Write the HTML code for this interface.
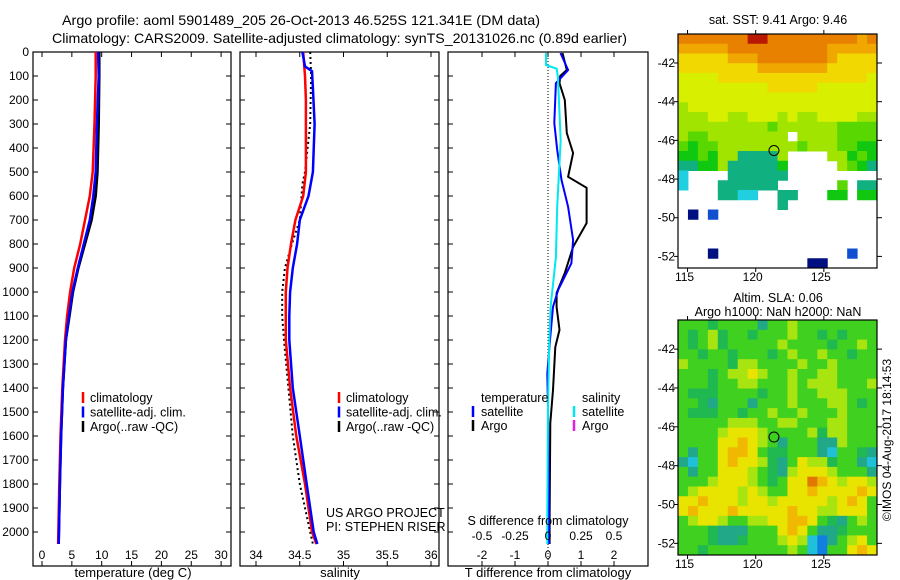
<!DOCTYPE html>
<html><head><meta charset="utf-8">
<style>
html,body{margin:0;padding:0;background:#fff;}
svg{display:block;font-family:"Liberation Sans",sans-serif;}
</style></head>
<body>
<svg id="chart" width="900" height="580" viewBox="0 0 900 580" xmlns="http://www.w3.org/2000/svg">
<text x="62" y="25" font-size="14" textLength="478" lengthAdjust="spacingAndGlyphs">Argo profile: aoml 5901489_205 26-Oct-2013 46.525S 121.341E (DM data)</text>
<text x="52" y="43" font-size="14" textLength="575" lengthAdjust="spacingAndGlyphs">Climatology: CARS2009. Satellite-adjusted climatology: synTS_20131026.nc (0.89d earlier)</text>
<text x="778" y="24" font-size="12.5" text-anchor="middle">sat. SST: 9.41 Argo: 9.46</text>
<text x="778" y="302" font-size="12.5" text-anchor="middle">Altim. SLA: 0.06</text>
<text x="778" y="316" font-size="12.5" text-anchor="middle">Argo h1000: NaN h2000: NaN</text>
<text x="0" y="0" font-size="12" text-anchor="middle" transform="translate(891,440) rotate(-90)">©IMOS 04-Aug-2017 18:14:53</text>
<g id="plots"></g>
</svg>
<script>
// ---------- data ----------
const tDepth = [0,100,300,500,600,700,800,900,1000,1100,1200,1400,1600,1800,2050];
const tClim  = [9.0,9.0,8.8,8.5,8.0,7.2,6.4,5.4,4.7,4.2,3.85,3.4,3.1,2.9,2.7];
const tSat   = [9.4,9.5,9.2,9.0,8.6,8.0,7.0,6.0,5.1,4.5,4.0,3.5,3.2,3.0,2.8];
const tArgo  = [9.6,9.6,9.5,9.3,9.0,8.3,7.2,6.1,5.2,4.6,4.0,3.5,3.2,3.0,2.8];

const sDepthClim = [0,100,200,500,600,700,800,900,1000,1200,1400,1600,1800,2000,2050];
const sClim      = [34.54,34.56,34.57,34.57,34.54,34.45,34.40,34.36,34.34,34.34,34.39,34.46,34.56,34.64,34.69];
const sDepthSat  = [0,60,80,150,300,500,600,700,800,900,1000,1100,1200,1400,1600,1800,2000,2050];
const sSat       = [34.53,34.56,34.64,34.65,34.67,34.65,34.60,34.50,34.47,34.42,34.39,34.38,34.38,34.42,34.50,34.58,34.66,34.70];
const sDepthArgo = [0,100,300,500,550,700,800,900,1000,1100,1200,1400,1600,1800,1900,2000,2050];
const sArgo      = [34.62,34.63,34.62,34.56,34.53,34.50,34.41,34.33,34.30,34.30,34.32,34.37,34.42,34.50,34.56,34.62,34.65];

const dDepthTSat = [4,75,130,296,408,533,645,783,880,991,1062,1200,1340,1479,1937,2050];
const dTSat      = [0.38,0.61,0.24,0.19,0.28,0.41,0.61,0.76,0.71,0.31,0.15,0.06,-0.02,0.0,0.03,0.03];
const dDepthTArgo = [4,75,100,130,200,338,421,520,566,713,812,921,1004,1062,1158,1229,1408,1546,1937,2050];
const dTArgo      = [0.44,0.57,0.37,0.35,0.51,0.57,0.76,0.61,1.17,1.17,0.76,0.51,0.26,0.26,0.35,0.22,0.15,0.07,0.05,0.05];
const dDepthSSat = [4,54,70,104,367,645,854,1062,1200,1479,1937,2050];
const dSSat      = [-0.015,-0.015,0.066,0.075,0.096,0.07,0.06,0.02,0.01,0.0,-0.005,-0.005];

const depthTicks = [0,100,200,300,400,500,600,700,800,900,1000,1100,1200,1300,1400,1500,1600,1700,1800,1900,2000];
const tempTicks = [0,5,10,15,20,25,30];
const salTicks = ['34','34.5','35','35.5','36'];
const dTTicks = [-2,-1,0,1,2];
const dSTicks = ['-0.5','-0.25','0','0.25','0.5'];
const mapLatTicks = [-42,-44,-46,-48,-50,-52];
const mapLonTicks = [115,120,125];

// SST map rows (color codes), 20 cols x 24 rows
const sstRows = [
"OOOOOOORROOOOOOOOOoO",
"oooooOOOOOOOOOOooooo",
"YYYYYoooOOOOOOOoYYYY",
"YYYYYYYYoooooooYYYYY",
"yyyyYYYYYYYYYYYYYYYy",
"yyyyyyyyyYYYYYyyyyyy",
"yyyyyyyyyyyyyyyyyyyy",
"Lyyyyyyyyyyyyyyyyyyy",
"LLLyyLLyyyLyLLyyyyLL",
"LLLLLLLLLGLLLLLLGGGG",
"LGGLLLLLLLL.LLLLGGGG",
"GgGGLLLLLLLLGLLLGGgg",
"ggGgLLTTTTL....LLgGg",
"TTggLTTTTTg.....LGgT",
"C....TTTTTT.........",
"C...TTTTTT......G.TT",
"....TTCC..TT...gg.gg",
"..........T.........",
".N.B................",
"....................",
"....................",
"....................",
"...N.............B..",
".............NN....."
];
// SLA map rows
const slaRows = [
"GGGgGGGGTGGLGGGGGGGG",
"GgGLgGGgGGGLGGgGgGGG",
"GgGLgGGGGGLGGGGgGGLG",
"GGgGGgGGGgGLGGLGGgGG",
"LGGGGgLLGGGGLGGLGGGG",
"GGGgGLLYLGGLGGLLGGGG",
"GGGgGGLLGGGLGLLLGGGL",
"GgggGGGGgGGLGGLLLGGG",
"GGgTGGGTGGGLGGGLLGgG",
"GgggGGgGGLGGLGGGLGGG",
"GGGGGLLLGGLLGGGLLGGG",
"GGGGLYYYLGGGGLgLLGGG",
"GGGGYYoYLGTGGGTTLGGG",
"GTGGYooYGggGGGTCGGgT",
"TCGGYoYYLgTGYLLgGGTC",
"GTGGYYYLGgTLYYYLGGGT",
"GGGLYYYLGgGYYOoYLYYL",
"GLYYYYLYLGGYYoYYYYoY",
"YYoYYYLYYLYYYYYLYoYG",
"YoYYYoYYYYYoYYLLYYYG",
"GLYYLGGLLYYooYGgTGLG",
"GGGgTTTGGGYoYGTTgGGG",
"GGGgTTgGGGLYLCBTGLYG",
"GGgGGGGGGGGLGCBGGYoY"
];
const sstColors = {R:'#b81800',O:'#e88000',o:'#f0a800',Y:'#f0d800',y:'#d8f000',L:'#a0e400',G:'#58d800',g:'#10c810',T:'#10b080',C:'#20d0e0',B:'#1050d0',N:'#001080'};
const slaColors = {G:'#40d020',g:'#20b850',T:'#20a888',C:'#20c0d8',B:'#1080e0',L:'#a8e410',Y:'#e8e400',o:'#f0b800',O:'#e07800'};

// ---------- drawing ----------
const NS='http://www.w3.org/2000/svg';
const root=document.getElementById('plots');
function mk(tag,attrs,parent){const e=document.createElementNS(NS,tag);for(const k in attrs)e.setAttribute(k,attrs[k]);(parent||root).appendChild(e);return e;}
function txt(s,x,y,anchor,size,parent){const e=mk('text',{x:x,y:y,'text-anchor':anchor||'middle','font-size':size||12},parent);e.textContent=s;return e;}

const TOP=52, BOT=566;
const yD = d => TOP + 0.24*d;
const xT = v => 42 + 5.97*v;
const xS = v => 256 + 87.5*(v-34);
const xDT = v => 548 + 33*v;
const xDS = v => 548 + 132*v;

function panel(name,x0,x1){
  const g=mk('g',{});
  
  
  mk('rect',{x:x0,y:TOP,width:x1-x0,height:BOT-TOP,fill:'none',stroke:'#000','stroke-width':1.2},g);
  depthTicks.forEach(d=>{
    const t1=mk('line',{x1:x0,x2:x0+5,y1:yD(d),y2:yD(d),stroke:'#000'},g);
    
    
    mk('line',{x1:x1,x2:x1-5,y1:yD(d),y2:yD(d),stroke:'#000'},g);
  });
  return g;
}
function line(g,xs,ys,fx,color,w,name,dash){
  const pts=xs.map((v,i)=>fx(v).toFixed(1)+','+yD(ys[i]).toFixed(1)).join(' ');
  const p=mk('polyline',{points:pts,fill:'none',stroke:color,'stroke-width':w},g);
  if(dash)p.setAttribute('stroke-dasharray',dash);
  
  
}
function xtick(g,x,lab,y){
  mk('line',{x1:x,x2:x,y1:BOT,y2:BOT-5,stroke:'#000'},g);
  mk('line',{x1:x,x2:x,y1:TOP,y2:TOP+5,stroke:'#000'},g);
  const t=txt(lab,x,y||559,'middle',12,g);
  
  
}
function legendBar(g,x,y,color){mk('line',{x1:x,x2:x,y1:y-10,y2:y+1,stroke:color,'stroke-width':2.5},g);}

// depth labels
depthTicks.forEach(d=>{
  const t=txt(String(d),29,yD(d)+4,'end',12);
  
  
});

// panel 1 temperature
const p1=panel('temperature-panel',33,231);
tempTicks.forEach(v=>xtick(p1,xT(v),String(v)));
line(p1,tArgo,tDepth,xT,'#000',2.5,'temp-argo-line');
line(p1,tClim,tDepth,xT,'#f00',2.5,'temp-climatology-line');
line(p1,tSat,tDepth,xT,'#00f',2.5,'temp-satellite-line');
txt('temperature (deg C)',133,577,'middle',13,p1);
[['climatology','#f00'],['satellite-adj. clim.','#00f'],['Argo(..raw -QC)','#000']].forEach((e,i)=>{
  legendBar(p1,83,402+i*14.5,e[1]);const t=txt(e[0],90,402+i*14.5,'start',12.5,p1);
  
});

// panel 2 salinity
const p2=panel('salinity-panel',240,439);
salTicks.forEach(v=>xtick(p2,xS(parseFloat(v)),v));
line(p2,sArgo,sDepthArgo,xS,'#000',2,'sal-argo-line','2,3');
line(p2,sClim,sDepthClim,xS,'#f00',2.5,'sal-climatology-line');
line(p2,sSat,sDepthSat,xS,'#00f',2.5,'sal-satellite-line');
txt('salinity',340,577,'middle',13,p2);
[['climatology','#f00'],['satellite-adj. clim.','#00f'],['Argo(..raw -QC)','#000']].forEach((e,i)=>{
  legendBar(p2,339,402+i*14.5,e[1]);const t=txt(e[0],346,402+i*14.5,'start',12.5,p2);
  
});
txt('US ARGO PROJECT',326,517,'start',12.5,p2);
txt('PI: STEPHEN RISER',326,531,'start',12.5,p2);

// panel 3 differences
const g3=mk('g',{});


mk('rect',{x:448,y:TOP,width:200,height:BOT-TOP,fill:'none',stroke:'#000','stroke-width':1.2},g3);
depthTicks.forEach(d=>mk('line',{x1:448,x2:453,y1:yD(d),y2:yD(d),stroke:'#000'},g3));
dTTicks.forEach(v=>xtick(g3,xDT(v),String(v)));
mk('line',{x1:548,x2:548,y1:TOP,y2:BOT,stroke:'#000','stroke-dasharray':'1,2'},g3);
line(g3,dTArgo,dDepthTArgo,xDT,'#000',2,'dT-argo-line');
line(g3,dTSat,dDepthTSat,xDT,'#00f',2,'dT-satellite-line');
line(g3,dSSat,dDepthSSat,xDS,'#00e8f0',2,'dS-satellite-line');
txt('S difference from climatology',548,525,'middle',12.5,g3);
dSTicks.forEach(v=>{const t=txt(v,xDS(parseFloat(v)),540,'middle',12,g3);});
txt('T difference from climatology',548,577,'middle',13,g3);
txt('temperature',481,402,'start',12.5,g3);
txt('salinity',582,402,'start',12.5,g3);
legendBar(g3,473,416,'#00f');txt('satellite',481,416,'start',12.5,g3);
legendBar(g3,473,430,'#000');txt('Argo',481,430,'start',12.5,g3);
legendBar(g3,574,416,'#00e8f0');txt('satellite',582,416,'start',12.5,g3);
legendBar(g3,574,430,'#e020e0');txt('Argo',582,430,'start',12.5,g3);

// maps
function map(name,rows,colors,mx,my,mw,mh,latTop,latBot,lonL,lonR){
  const g=mk('g',{});
  
  
  const nr=rows.length,nc=rows[0].length,cw=mw/nc,ch=mh/nr;
  rows.forEach((r,i)=>{for(let j=0;j<nc;j++){const c=r[j];if(c==='.')continue;
    const cell=mk('rect',{x:(mx+j*cw).toFixed(2),y:(my+i*ch).toFixed(2),width:(cw+0.5).toFixed(2),height:(ch+0.5).toFixed(2),fill:colors[c]},g);
    
    }});
  mk('rect',{x:mx,y:my,width:mw,height:mh,fill:'none',stroke:'#000','stroke-width':1.2},g);
  const fy=l=>my+(latTop-l)/(latTop-latBot)*mh, fx=l=>mx+(l-lonL)/(lonR-lonL)*mw;
  mapLatTicks.forEach(l=>{
    mk('line',{x1:mx+mw,x2:mx+mw+5,y1:fy(l),y2:fy(l),stroke:'#000'},g);
    mk('line',{x1:mx-4,x2:mx,y1:fy(l),y2:fy(l),stroke:'#000'},g);
    txt(String(l),mx-3,fy(l)+4,'end',12,g);
  });
  mapLonTicks.forEach(l=>{
    mk('line',{x1:fx(l),x2:fx(l),y1:my,y2:my-4,stroke:'#000'},g);
    mk('line',{x1:fx(l),x2:fx(l),y1:my+mh,y2:my+mh+4,stroke:'#000'},g);
    txt(String(l),fx(l)-3,my+mh+13,'middle',12,g);
  });
  const c=mk('circle',{cx:fx(121.341),cy:fy(-46.525),r:5,fill:'none',stroke:'#000','stroke-width':1},g);
  
  
}
map('sst-map',sstRows,sstColors,678,34,199,234,-40.5,-52.6,114.3,128.9);
map('sla-map',slaRows,slaColors,678,320,199,235,-40.5,-52.6,114.3,128.9);
</script>
</body></html>
